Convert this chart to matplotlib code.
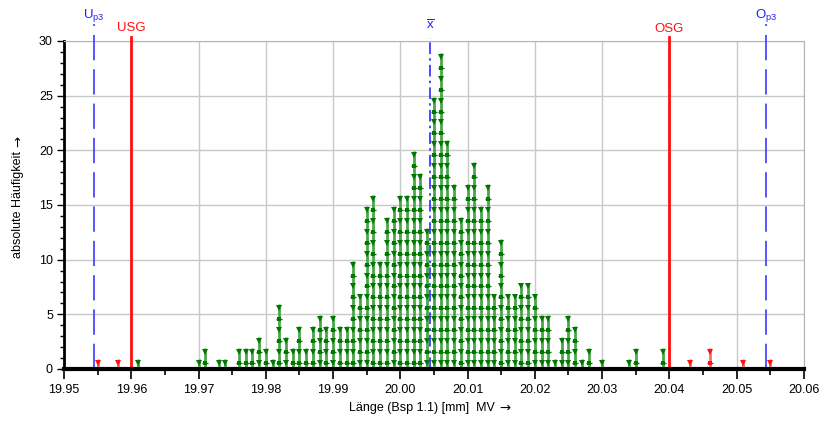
#!/usr/bin/env python3
"""
Single value chart (absolute frequency) for Laenge Bsp 1.1
"""

import matplotlib
matplotlib.use("Agg")
import matplotlib.pyplot as plt
from matplotlib.ticker import MultipleLocator, FormatStrFormatter
import matplotlib.transforms as mtransforms

plt.rcParams['font.family'] = ['Liberation Sans', 'DejaVu Sans']
plt.rcParams['mathtext.fontset'] = 'custom'
plt.rcParams['mathtext.rm'] = 'Liberation Sans'
plt.rcParams['mathtext.it'] = 'Liberation Sans'

# measured values (rounded to 0.001 mm) and how often each occurred
values = [19.955, 19.958, 19.961, 19.970, 19.971, 19.973, 19.974, 19.976,
          19.977, 19.978, 19.979, 19.980, 19.981, 19.982, 19.983, 19.984,
          19.985, 19.986, 19.987, 19.988, 19.989, 19.990, 19.991, 19.992,
          19.993, 19.994, 19.995, 19.996, 19.997, 19.998, 19.999, 20.000,
          20.001, 20.002, 20.003, 20.004, 20.005, 20.006, 20.007, 20.008,
          20.009, 20.010, 20.011, 20.012, 20.013, 20.014, 20.015, 20.016,
          20.017, 20.018, 20.019, 20.020, 20.021, 20.022, 20.023, 20.024,
          20.025, 20.026, 20.027, 20.028, 20.030, 20.034, 20.035, 20.039,
          20.043, 20.046, 20.051, 20.055]
counts = [1, 1, 1, 1, 2, 1, 1, 2,
          2, 2, 3, 2, 1, 6, 3, 2,
          4, 2, 4, 5, 4, 5, 4, 4,
          10, 7, 15, 16, 10, 14, 15, 16,
          16, 20, 18, 13, 25, 29, 21, 17,
          14, 17, 19, 15, 17, 7, 12, 7,
          7, 8, 8, 7, 5, 5, 1, 3,
          5, 4, 1, 2, 1, 1, 2, 2,
          1, 2, 1, 1]

# limits
USG = 19.960
OSG = 20.040
x_mean = 20.0044
U_p3 = 19.9544
O_p3 = 20.0544

x_ticks = [19.95, 19.96, 19.97, 19.98, 19.99, 20.00, 20.01, 20.02, 20.03, 20.04, 20.05, 20.06]

fig = plt.figure(figsize=(8.22, 4.23), dpi=100)
ax = fig.add_axes([0.0779, 0.1277, 0.900, 0.7754])

# stems + stacked arrow markers, one marker per observation
for x, n in zip(values, counts):
    inside = USG <= x <= OSG
    stem_col = '#4aa64a' if inside else '#ff6a6a'
    mark_col = '#007800' if inside else '#ff1010'
    ax.vlines(x, 0, n - 0.1, color=stem_col, linewidth=2.0, zorder=3)
    ys_v = [n - 0.45 - j for j in range(n) if j % 2 == 0]
    ys_s = [n - 0.45 - j for j in range(n) if j % 2 == 1]
    ax.plot([x] * len(ys_v), ys_v, linestyle='none', marker='v', markersize=3.8,
            color=mark_col, markeredgewidth=0, zorder=4)
    if ys_s:
        ax.plot([x] * len(ys_s), ys_s, linestyle='none', marker='s', markersize=2.4,
                color=mark_col, markeredgewidth=0, zorder=4)
        ax.plot([x] * len(ys_s), ys_s, linestyle='none', marker='_', markersize=4.6,
                color=mark_col, markeredgewidth=1.0, zorder=4)

ax.set_xlim(19.95, 20.06)
ax.set_ylim(0, 30)

# limit lines, reaching a little above the plot area
trans = mtransforms.blended_transform_factory(ax.transData, ax.transAxes)
ax.plot([U_p3, U_p3], [0, 1.052], transform=trans, color='#4848ff', linewidth=1.3,
        dashes=(14, 5), clip_on=False, zorder=5)
ax.plot([O_p3, O_p3], [0, 1.052], transform=trans, color='#4848ff', linewidth=1.3,
        dashes=(14, 5), clip_on=False, zorder=5)
ax.plot([USG, USG], [0, 1.012], transform=trans, color='#ff1010', linewidth=2.0,
        clip_on=False, zorder=5)
ax.plot([OSG, OSG], [0, 1.012], transform=trans, color='#ff1010', linewidth=2.0,
        clip_on=False, zorder=5)
ax.plot([x_mean, x_mean], [0, 1.01], transform=trans, color='#2a2aff', linewidth=1.2,
        dashes=(7, 2.5, 1.5, 2.5), clip_on=False, zorder=5)

ax.text(U_p3, 1.079, r'U$_{\mathrm{p3}}$', transform=trans, color='#2020ff',
        fontsize=9.5, ha='center', va='center')
ax.text(O_p3, 1.079, r'O$_{\mathrm{p3}}$', transform=trans, color='#2020ff',
        fontsize=9.5, ha='center', va='center')
ax.text(USG, 1.04, 'USG', transform=trans, color='#ff1010', fontsize=9.5,
        ha='center', va='center')
ax.text(OSG, 1.037, 'OSG', transform=trans, color='#ff1010', fontsize=9.5,
        ha='center', va='center')
ax.text(x_mean, 1.045, r'$\overline{\mathrm{x}}$', transform=trans, color='#2020ff',
        fontsize=9.5, ha='center', va='center')

# axes styling
ax.set_xticks(x_ticks)
ax.xaxis.set_major_formatter(FormatStrFormatter('%.2f'))
ax.xaxis.set_minor_locator(MultipleLocator(0.005))
ax.yaxis.set_major_locator(MultipleLocator(5))
ax.yaxis.set_minor_locator(MultipleLocator(1))
ax.tick_params(axis='both', which='major', labelsize=9, direction='out', color='black')
ax.tick_params(axis='x', which='major', length=7, width=1.2, pad=4)
ax.tick_params(axis='x', which='minor', length=4, width=1.2)
ax.tick_params(axis='y', which='major', length=5, width=1.0, pad=3)
ax.tick_params(axis='y', which='minor', length=3, width=1.0)

ax.grid(True, which='major', color='#c8c8c8', linewidth=1.0)
ax.set_axisbelow(True)

ax.spines['left'].set_linewidth(2.0)
ax.spines['left'].set_color('black')
ax.spines['bottom'].set_linewidth(3.0)
ax.spines['bottom'].set_color('black')
ax.spines['bottom'].set_zorder(6)
ax.spines['top'].set_color('#b4b4b4')
ax.spines['right'].set_color('#b4b4b4')

# axis titles, the arrows are set separately in DejaVu Sans (wider glyph)
xlab = ax.text(0.484, -0.12, 'Länge (Bsp 1.1) [mm]  MV', transform=ax.transAxes,
               fontsize=9, ha='center', va='center')
ylab = ax.text(-0.062, 0.50, 'absolute Häufigkeit', transform=ax.transAxes,
               rotation=90, fontsize=9, ha='center', va='center')
fig.canvas.draw()
xl = xlab.get_window_extent()
yl = ylab.get_window_extent()
W, H = fig.bbox.width, fig.bbox.height
fig.text((xl.x1 + 4) / W, (xl.y0 + xl.y1) / 2 / H, '→',
         family='DejaVu Sans', fontsize=9.5, ha='left', va='center')
fig.text((yl.x0 + yl.x1) / 2 / W, (yl.y1 + 4) / H, '→',
         family='DejaVu Sans', fontsize=9.5, rotation=90, ha='center', va='bottom')

plt.savefig('out.png', dpi=100)
plt.close(fig)
